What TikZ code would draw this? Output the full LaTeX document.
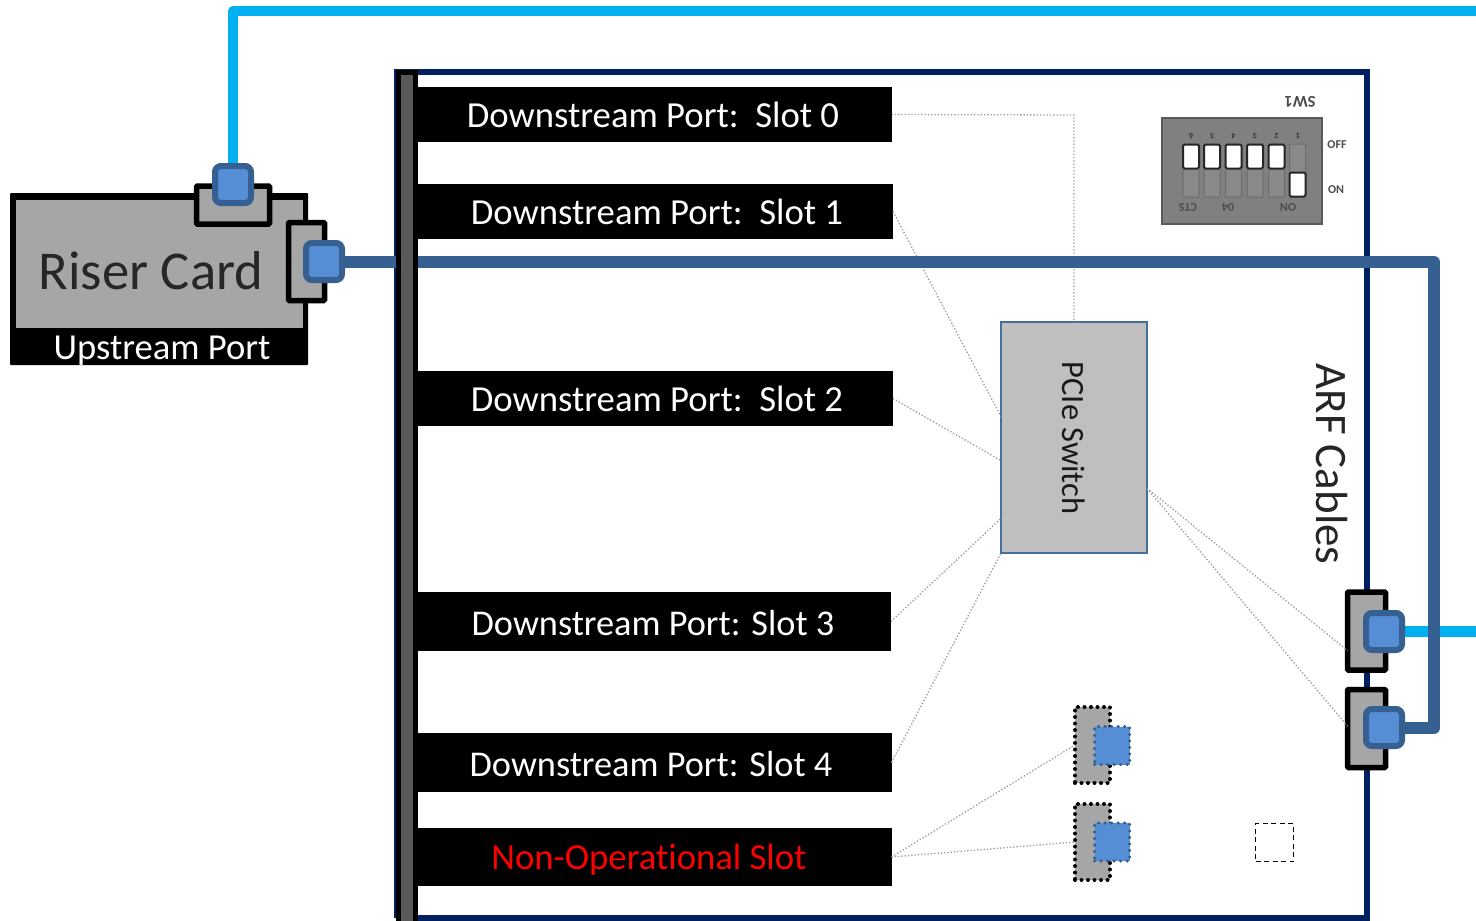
\documentclass[tikz,border=0pt]{standalone}
\usepackage{fontspec}
\setmainfont[Ligatures=NoCommon]{Carlito}
\usetikzlibrary{calc}
\definecolor{navyf}{HTML}{002060}
\definecolor{cyanl}{HTML}{00B0F0}
\definecolor{bluel}{HTML}{376092}
\definecolor{bluef}{HTML}{558ED5}
\definecolor{grayf}{HTML}{A6A6A6}
\definecolor{swf}{HTML}{BFBFBF}
\definecolor{swb}{HTML}{41719C}
\definecolor{dipf}{HTML}{808080}
\definecolor{dipb}{HTML}{595959}
\definecolor{dotl}{HTML}{999999}
\tikzset{
  x=1pt,y=-1pt,
  box/.style={rectangle,inner sep=0pt,outer sep=0pt},
  slotbox/.style={box,fill=black,minimum width=476pt},
  slottxt/.style={font=\fontsize{36.7}{38}\selectfont,text=white,inner sep=0pt},
  conn/.style={box,draw=black,fill=grayf,line width=5.5pt,rounded corners=1pt},
  plug/.style={box,draw=bluel,fill=bluef,line width=6pt,rounded corners=6pt,minimum width=36pt,minimum height=37pt},
  dconn/.style={box,draw=black,fill=grayf,line width=4pt,line cap=round,dash pattern=on 0pt off 6.5pt,minimum width=35pt,minimum height=76pt},
  dplug/.style={box,draw=bluel,fill=bluef,line width=3.5pt,line cap=round,dash pattern=on 0pt off 6.5pt,minimum width=35pt,minimum height=38pt},
  thin dot/.style={draw=dotl,line width=1.3pt,dotted},
  dipslot/.style={box,draw=dipb!50!dipf,fill=dipf!93!white,line width=1pt,minimum width=16pt,minimum height=53pt,rounded corners=1pt},
  dipknob/.style={box,draw=black!85,fill=white,line width=2pt,minimum width=16pt,minimum height=24pt,rounded corners=1.5pt},
  diptxt/.style={font=\fontsize{12}{13}\selectfont\bfseries,text=black!70,inner sep=0pt},
  dipnum/.style={font=\fontsize{8}{9}\selectfont\bfseries,text=black!80,inner sep=0pt,rotate=180},
}
\begin{document}
\begin{tikzpicture}
\useasboundingbox (0,0) rectangle (1476,921);
% board frame
\coordinate (fa) at (397,72);
\coordinate (fb) at (1367,72);
\coordinate (fc) at (1367,918);
\coordinate (fd) at (397,918);
\draw[navyf,line width=6pt,line join=miter] (fd) -- (fc) -- (fb) -- (fa) -- (fd);
% slot boxes
\node[slotbox,minimum height=55pt] (s0) at (653.5,114.5) {};
\node[slotbox,minimum height=55pt] (s1) at (655,211.5) {};
\node[slotbox,minimum height=55pt] (s2) at (655,398.5) {};
\node[slotbox,minimum height=59pt] (s3) at (653,621.5) {};
\node[slotbox,minimum height=59pt] (s4) at (653.5,762.5) {};
\node[slotbox,minimum height=58pt] (s5) at (653.5,857) {};
\node[slottxt] (t0) at (653,115) {Downstream Port:\ \ Slot 0};
\node[slottxt] (t1) at (657,212) {Downstream Port:\ \ Slot 1};
\node[slottxt] (t2) at (657,399) {Downstream Port:\ \ Slot 2};
\node[slottxt,font=\fontsize{36.3}{38}\selectfont] (t3) at (653,623) {Downstream Port: Slot 3};
\node[slottxt,font=\fontsize{36.3}{38}\selectfont] (t4) at (651,764) {Downstream Port: Slot 4};
\node[slottxt,text=red] (t5) at (649,860) {Non-Operational Slot};
% PCIe switch
\node[box,draw=swb,fill=swf,line width=2pt,minimum width=146pt,minimum height=231pt] (sw) at (1074,437.5) {};
\node[rotate=-90,font=\fontsize{32.5}{34}\selectfont,text=black!90,inner sep=0pt] (swt) at (1074,438) {PCIe Switch};
\node[rotate=-90,font=\fontsize{45}{47}\selectfont,text=black!85,inner sep=0pt] (arf) at (1332,464) {ARF Cables};
% lower right connectors
\node[conn,minimum width=38pt,minimum height=78pt] (c1) at (1366.5,631) {};
\node[conn,minimum width=38pt,minimum height=78pt] (c2) at (1366.5,728.5) {};
% dashed connectors
\node[dconn] (d1) at (1092.5,745) {};
\node[dconn] (d2) at (1092.5,842) {};
% dotted connections
\coordinate (b0) at (1074,115);
\draw[thin dot] (s0.east) -- (b0) -- (sw.north);
\draw[thin dot] (s1.east) -- ($(sw.north west)!0.41!(sw.south west)$);
\draw[thin dot] (s2.east) -- ($(sw.north west)!0.6!(sw.south west)$);
\draw[thin dot] (s3.east) -- ($(sw.north west)!0.85!(sw.south west)$);
\draw[thin dot] (s4.east) -- (sw.south west);
\draw[thin dot] (s5.east) -- (d1.west);
\draw[thin dot] (s5.east) -- (d2.west);
\draw[thin dot] ($(sw.north east)!0.72!(sw.south east)$) -- ($(c1.south west)!0.25!(c1.north west)$);
\draw[thin dot] ($(sw.north east)!0.72!(sw.south east)$) -- ($(c2.north west)!0.47!(c2.south west)$);
% plugs on the dashed connectors
\node[dplug] (dp1) at (1112,745.5) {};
\node[dplug] (dp2) at (1112,842) {};
\node[box,draw=black,line width=1.5pt,dash pattern=on 5pt off 3.5pt,minimum width=38pt,minimum height=38pt] (dd) at (1274.5,842.5) {};
% riser card
\node[box,fill=black,minimum width=298pt,minimum height=172pt,rounded corners=1pt] (rc) at (159,279) {};
\node[box,fill=grayf,minimum width=287pt,minimum height=128pt] (rg) at (159.5,264) {};
\node[font=\fontsize{54.7}{56}\selectfont,text=black!85,inner sep=0pt] (rt) at (151,271) {Riser Card};
\node[font=\fontsize{36.6}{38}\selectfont,text=white,inner sep=0pt] (ru) at (162,351) {Upstream Port};
\node[conn,minimum width=73pt,minimum height=38pt] (c3) at (233,205) {};
\node[conn,minimum width=36pt,minimum height=78pt] (c4) at (306.5,261.5) {};
\coordinate (cy1) at (233,11);
\coordinate (cy2) at (1476,11);
\coordinate (cy3) at (1476,631);
\coordinate (bl1) at (1434,262);
\coordinate (bl2) at (1434,728);
\draw[cyanl,line width=10pt,line join=round] (c3.center) -- (cy1) -- (cy2);
\draw[cyanl,line width=11pt] (1384,631) -- (cy3);
\draw[bluel,line width=12pt,line join=round] (324,262) -- (bl1) -- (bl2) -- (1384,728);
% left bar
\node[box,draw=black,fill=dipb,line width=5pt,minimum width=17pt,minimum height=855pt] (bar) at (406.5,499.5) {};
% plugs
\node[plug] (p1) at (233,184.5) {};
\node[plug] (p2) at (324,261.5) {};
\node[plug] (p3) at (1384,631.5) {};
\node[plug] (p4) at (1384,727.5) {};
% DIP switch
\node[box,draw=dipb,fill=dipf,line width=2pt,minimum width=160pt,minimum height=106pt] (dip) at (1242,170.5) {};
\foreach \n/\x/\lbl in {a/1191/6,b/1212/5,c/1233.5/4,d/1255/3,e/1276.5/2}{
  \node[dipslot] (sl\n) at (\x,170.5) {};
  \node[dipknob] (kn\n) at (\x,156.5) {};
  \node[dipnum] (nm\n) at (\x,136.5) {\lbl};
}
\node[dipslot] (slf) at (1297.5,170.5) {};
\node[dipknob] (knf) at (1297.5,184.5) {};
\node[dipnum] (nmf) at (1298,136.5) {1};
\node[diptxt,rotate=180] (l1) at (1188,207) {CTS};
\node[diptxt,rotate=180] (l2) at (1228,207) {04};
\node[diptxt,rotate=180] (l3) at (1288,207) {ON};
\node[diptxt] (off) at (1337,145) {OFF};
\node[diptxt] (on) at (1336,190) {ON};
\node[diptxt,rotate=180,font=\fontsize{16.5}{18}\selectfont\bfseries] (sw1) at (1300,102) {SW1};
\end{tikzpicture}
\end{document}
